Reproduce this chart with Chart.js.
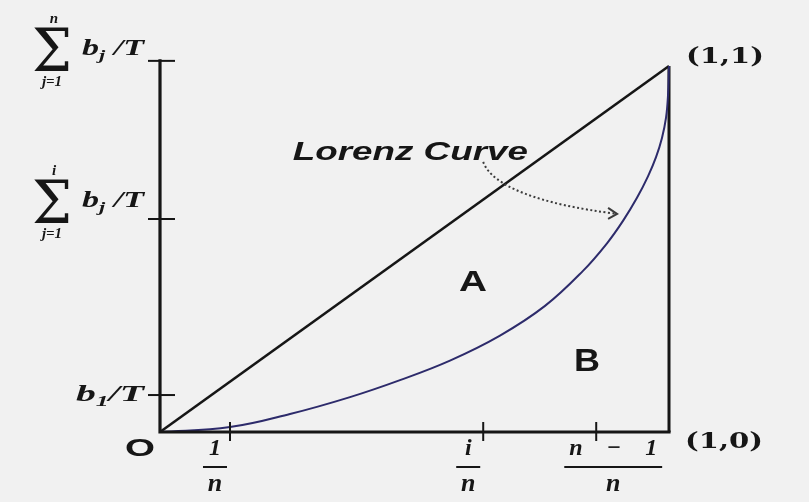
<!DOCTYPE html>
<html>
<head>
<meta charset="utf-8">
<script src="https://cdn.jsdelivr.net/npm/chart.js@4.4.1/dist/chart.umd.min.js"></script>
<style>
html,body{margin:0;padding:0;background:#f1f1f1}
canvas{display:block}
</style>
</head>
<body>
<canvas id="lorenz" width="809" height="502"></canvas>
<script>
// Lorenz curve (share of population -> share of income)
const lorenzX = [0, 0.1375, 0.2554, 0.3733, 0.4715, 0.5697, 0.6680, 0.7564, 0.8310, 0.8782, 0.9096, 0.9371, 0.9587, 0.9745, 0.9862, 0.9941, 0.9980, 1];
const lorenzY = [0, 0.0134, 0.0492, 0.0954, 0.1418, 0.1951, 0.2634, 0.3445, 0.4402, 0.5156, 0.5768, 0.6399, 0.6986, 0.7511, 0.8036, 0.8582, 0.9183, 1];
const equalityX = [0, 1];
const equalityY = [0, 1];
const edgeX = [1, 1];
const edgeY = [0, 1];

// tick positions and their labels
const xTickVals = [0.1375, 0.635, 0.857];
const xTickLabels = [['1', 'n'], ['i', 'n'], ['n\u2003\u2212\u20031', 'n']];
const yTickVals = [0.101, 0.582, 1.014];
const yTickLabels = [
  {main: [['b', ''], ['1', 'sub'], ['/T', '']], width: 68},
  {sup: 'i', sub: 'j=1', main: [['b', ''], ['j', 'sub'], [' /T', '']], width: 62},
  {sup: 'n', sub: 'j=1', main: [['b', ''], ['j', 'sub'], [' /T', '']], width: 62}
];

const INK = '#161616';
const SERIF_BI = "bold italic 23px 'Liberation Serif'";
const SERIF_BI_SM = "bold italic 15px 'Liberation Serif'";

function pts(xs, ys){ return xs.map((x,i)=>({x, y: ys[i]})); }

function wideText(ctx, txt, x, y, font, width, align){
  ctx.save();
  ctx.font = font;
  const w = ctx.measureText(txt).width;
  const sx = width ? width / w : 1;
  let left = x;
  if (align === 'center') left = x - w*sx/2;
  if (align === 'right') left = x - w*sx;
  ctx.translate(left, y);
  ctx.scale(sx, 1);
  ctx.textAlign = 'left';
  ctx.fillText(txt, 0, 0);
  ctx.restore();
}

function runsWidth(ctx, runs){
  let w = 0;
  runs.forEach(([t, k])=>{ ctx.font = k==='sub' ? SERIF_BI_SM : SERIF_BI; w += ctx.measureText(t).width; });
  return w;
}
function drawRuns(ctx, runs, left, base, width){
  const w = runsWidth(ctx, runs), sx = width / w;
  ctx.save();
  ctx.translate(left, base); ctx.scale(sx, 1);
  let x = 0;
  runs.forEach(([t, k])=>{
    ctx.font = k==='sub' ? SERIF_BI_SM : SERIF_BI;
    ctx.fillText(t, x, k==='sub' ? 5 : 0);
    x += ctx.measureText(t).width;
  });
  ctx.restore();
}

const diagram = {
  id: 'diagram',
  afterDatasetsDraw(chart){
    const ctx = chart.ctx, xs = chart.scales.x, ys = chart.scales.y;
    const x0 = xs.getPixelForValue(0), y0 = ys.getPixelForValue(0);
    const x1 = xs.getPixelForValue(1), yTop = ys.getPixelForValue(yTickVals[yTickVals.length-1]);
    ctx.save();
    ctx.strokeStyle = INK; ctx.lineCap = 'square';
    // axes
    ctx.lineWidth = 3.2;
    ctx.beginPath(); ctx.moveTo(x0, yTop); ctx.lineTo(x0, y0); ctx.lineTo(x1, y0); ctx.stroke();
    // tick marks
    ctx.lineWidth = 2; ctx.lineCap = 'butt';
    yTickVals.forEach(v=>{ const p = ys.getPixelForValue(v); ctx.beginPath(); ctx.moveTo(x0-12, p); ctx.lineTo(x0+15, p); ctx.stroke(); });
    xTickVals.forEach(v=>{ const p = xs.getPixelForValue(v); ctx.beginPath(); ctx.moveTo(p, y0-10); ctx.lineTo(p, y0+9); ctx.stroke(); });

    ctx.fillStyle = INK; ctx.textBaseline = 'alphabetic';
    // x tick labels as fractions
    const xOff = [-15, -15, 17];
    xTickLabels.forEach(([num, den], i)=>{
      const cx = xs.getPixelForValue(xTickVals[i]) + xOff[i];
      ctx.font = "bold italic 24px 'Liberation Serif'"; ctx.textAlign = 'center';
      const w = Math.max(ctx.measureText(num).width, 14) + 10;
      ctx.fillText(num, cx, y0+23);
      ctx.fillRect(cx - w/2, y0+34, w, 2);
      ctx.font = "bold italic 26px 'Liberation Serif'";
      ctx.fillText(den, cx, y0+59);
    });
    // y tick labels
    const yOff = [0, -18, -12];
    yTickLabels.forEach((lab, i)=>{
      const cy = ys.getPixelForValue(yTickVals[i]) + yOff[i];
      const right = x0 - 16;
      const start = right - lab.width;
      ctx.textAlign = 'left';
      drawRuns(ctx, lab.main, start, cy + 6, lab.width);
      if (lab.sup){
        const sx = start - 30;
        ctx.textBaseline = 'alphabetic';
        wideText(ctx, '\u03a3', sx, cy + 22, "60px 'DejaVu Serif'", 40, 'center');
        ctx.textAlign = 'center';
        ctx.font = SERIF_BI_SM;
        ctx.fillText(lab.sup, sx + 2, cy - 26);
        ctx.fillText(lab.sub, sx, cy + 37);
      }
    });

    // corner labels
    ctx.textBaseline = 'middle';
    const font11 = "bold 22px 'DejaVu Serif'";
    wideText(ctx, '(1,1)', x1 + 17, ys.getPixelForValue(1) - 9, font11, 78);
    wideText(ctx, '(1,0)', x1 + 16, y0 + 10, font11, 78);
    wideText(ctx, 'O', x0 - 20, y0 + 18, "bold 23px 'Liberation Sans'", 30, 'center');
    // region labels
    wideText(ctx, 'A', xs.getPixelForValue(0.615), ys.getPixelForValue(0.407), "bold 29px 'Liberation Sans'", 28, 'center');
    wideText(ctx, 'B', xs.getPixelForValue(0.839), ys.getPixelForValue(0.191), "bold 31px 'Liberation Sans'", 26, 'center');
    ctx.textBaseline = 'alphabetic';
    wideText(ctx, 'Lorenz Curve', xs.getPixelForValue(0.261), ys.getPixelForValue(0.743), "bold italic 25px 'Liberation Sans'", 235);

    // dotted pointer from the label to the curve
    const P = (a,b)=>[xs.getPixelForValue(a), ys.getPixelForValue(b)];
    const s = P(0.635, 0.738), c1 = P(0.652, 0.672), c2 = P(0.745, 0.622), e = P(0.898, 0.596);
    ctx.strokeStyle = '#3c3c3c'; ctx.lineWidth = 2; ctx.setLineDash([2, 2.5]);
    ctx.beginPath(); ctx.moveTo(s[0], s[1]); ctx.bezierCurveTo(c1[0], c1[1], c2[0], c2[1], e[0], e[1]); ctx.stroke();
    ctx.setLineDash([]);
    ctx.beginPath(); ctx.moveTo(e[0]-9, e[1]-6); ctx.lineTo(e[0], e[1]); ctx.lineTo(e[0]-9, e[1]+5); ctx.stroke();
    ctx.restore();
  }
};

new Chart(document.getElementById('lorenz'), {
  type: 'scatter',
  data: {
    datasets: [
      {data: pts(lorenzX, lorenzY), showLine: true, borderColor: '#2d2b6b', borderWidth: 2, pointRadius: 0, tension: 0.4, clip: false},
      {data: pts(equalityX, equalityY), showLine: true, borderColor: INK, borderWidth: 2.6, pointRadius: 0, clip: false},
      {data: pts(edgeX, edgeY), showLine: true, borderColor: INK, borderWidth: 3, pointRadius: 0, clip: false}
    ]
  },
  options: {
    responsive: false,
    animation: false,
    layout: {padding: {left: 160, top: 66, right: 140, bottom: 70}},
    plugins: {legend: {display: false}, tooltip: {enabled: false}},
    scales: {
      x: {type: 'linear', min: 0, max: 1, display: false},
      y: {type: 'linear', min: 0, max: 1, display: false}
    }
  },
  plugins: [diagram]
});
</script>
</body>
</html>
